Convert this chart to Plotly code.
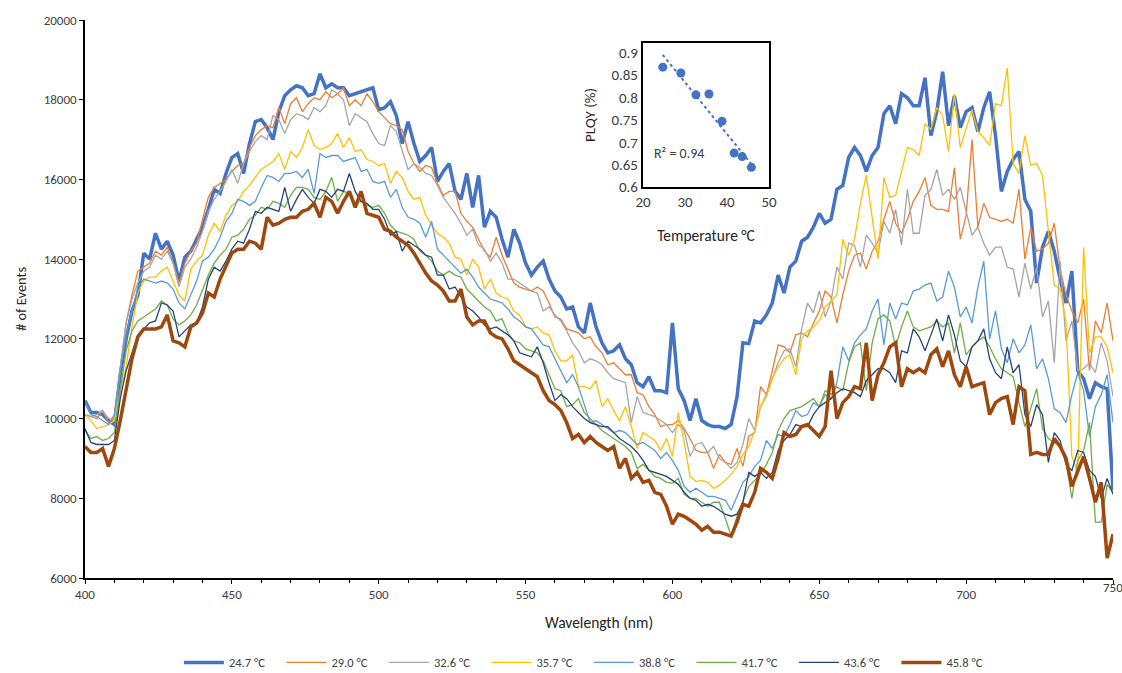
import numpy as np
import plotly.graph_objects as go

# ---------------- data ----------------
wavelength = list(range(400, 752, 2))

s247 = [10450, 10150, 10150, 10100, 9950, 9850, 11100, 12000, 12700, 13100,
        14150, 14000, 14650, 14250, 14450, 14100, 13450, 14050, 14200, 14500,
        14800, 15250, 15750, 15650, 16150, 16550, 16650, 16150, 16900, 17450,
        17500, 17300, 17000, 17700, 18100, 18250, 18350, 18300, 18100, 18150,
        18650, 18300, 18400, 18300, 18300, 18100, 18150, 18200, 18250, 18300,
        17750, 17800, 17950, 17600, 16900, 17450, 16900, 16450, 16600, 16800,
        15950, 16200, 16400, 15700, 15500, 16150, 15300, 16100, 14800, 15200,
        15050, 14500, 14050, 14750, 14400, 13900, 13600, 13800, 13950, 13500,
        13200, 13050, 12750, 12800, 12300, 12150, 12900, 12300, 11900, 11650,
        11700, 11850, 11500, 11350, 10900, 10800, 11050, 10700, 10700, 10650,
        12400, 10750, 10450, 9950, 10500, 9950, 9850, 9800, 9800, 9750,
        9850, 10550, 11900, 11880, 12450, 12400, 12600, 12900, 13600, 13150,
        13800, 13950, 14450, 14550, 14800, 15150, 14900, 15000, 15750, 15850,
        16550, 16800, 16600, 16200, 16600, 16800, 17650, 17850, 17400, 18150,
        18050, 17850, 17850, 18550, 17100, 17700, 18700, 17350, 18100, 17300,
        17700, 17800, 17200, 17800, 18200, 17100, 15700, 16200, 16500, 16700,
        15500, 15200, 13400, 14300, 14700, 14200, 13500, 12900, 13700, 11200,
        11000, 10500, 10900, 10800, 10750, 8200]

s290 = [10100, 10050, 10000, 10200, 9900, 10000, 11200, 12400, 13100, 13700,
        13800, 13900, 14200, 14100, 14300, 13900, 13400, 13900, 14200, 14400,
        15000, 15550, 15800, 15900, 16000, 16200, 16350, 16400, 16800, 17100,
        17250, 17350, 17300, 17800, 17400, 17900, 18050, 17700, 17900, 18050,
        18000, 18200, 18050, 18150, 18300, 17850, 18000, 17850, 18150, 17950,
        17700, 17550, 17400, 17350, 17250, 16700, 16400, 16200, 16350, 16300,
        15900, 15600, 15700, 15700, 15150, 14950, 14800, 14500, 14200, 14050,
        14550, 14100, 13750, 13400, 13300, 13250, 13200, 13300, 13200, 12900,
        12550, 12500, 12250, 12200, 12150, 12000, 12050, 11800, 11650, 11350,
        11400, 11250, 11100, 11100, 10650, 10600, 10300, 10100, 9800, 9850,
        9850, 9950, 9750, 9500, 9200, 9150, 9150, 8750, 9100, 8900,
        8850, 9250, 8800, 9550, 9650, 10800, 10600, 11200, 11850, 11800,
        11650, 12100, 12150, 12050, 12400, 12700, 13200, 13050, 12400, 13100,
        13700, 14100, 14150, 13750, 14200, 14450, 15000, 15450, 14900, 14650,
        15000, 15450, 15700, 16050, 15350, 15250, 15250, 15200, 16300, 14500,
        15100, 17000, 14800, 15400, 15050, 15000, 14950, 15000, 14900, 15750,
        14000, 14800, 14200, 14250, 14400, 14900, 13750, 13100, 12700, 12400,
        13000, 11200, 12450, 12150, 12900, 11950]

s326 = [10100, 10050, 10100, 10200, 10000, 9950, 11300, 12400, 13000, 13400,
        13700, 13800, 14100, 14000, 14200, 13900, 13300, 13800, 14000, 14300,
        14700, 15200, 15500, 15700, 15950, 16250, 15900, 16400, 16700, 16950,
        17100, 17000, 17600, 17500, 17150, 17500, 17650, 17600, 17500, 17800,
        17700, 17850, 18250, 18150, 18000, 17350, 17650, 17550, 17450, 17150,
        16900, 16850, 17350, 17200, 16700, 16250, 16400, 16300, 16150, 16100,
        15850, 15550, 15350, 15150, 14900, 14600, 14750, 14350, 14250, 13950,
        14150, 13900, 13500, 13500, 13400, 13300, 13200, 13150, 12700, 12800,
        12600, 12450, 12200, 11900, 11700, 11400, 11500, 11450, 11350, 11150,
        11000, 10950, 10900, 9900, 10550, 10150, 10100, 10050, 9950, 9850,
        9650, 9850, 9700, 9050, 9350, 9400, 9150, 9300, 9000, 8900,
        8750, 8900, 9350, 10000, 9700, 10300, 10600, 11000, 11400, 11700,
        11750, 11300, 12250, 12900, 12650, 13200, 12550, 12950, 13800, 13500,
        14400, 14350, 13800, 14600, 14400, 14150, 14950, 14650, 15250, 14350,
        15750, 14650, 14650, 15600, 15750, 16250, 15600, 15750, 15500, 15800,
        15200, 14600, 14800, 14400, 14100, 14300, 14300, 13800, 13750, 13050,
        13900, 13250, 13800, 12550, 12950, 11400, 13950, 11950, 12450, 11200,
        11250, 11400, 11150, 11900, 11450, 10550]

s357 = [10100, 9950, 9750, 9800, 9850, 9950, 10700, 11300, 12300, 13150,
        13450, 13550, 13550, 13700, 13800, 13450, 13100, 12950, 13750, 13950,
        14100, 14600, 14900, 14700, 15100, 15350, 15450, 15700, 15850, 16050,
        16250, 16350, 16450, 16650, 16250, 16700, 16550, 16800, 17250, 16850,
        16750, 16800, 16900, 17150, 16800, 17050, 16700, 16750, 16500, 16450,
        16350, 16400, 15900, 16200, 16050, 15700, 15500, 15550, 15100, 14850,
        14650, 14550, 14400, 14050, 14000, 13600, 14000, 13800, 13250, 13500,
        13150, 13050, 13000, 12700, 12600, 12300, 12250, 12300, 12150, 12100,
        11700, 11450, 11450, 11600, 10800, 10800, 10750, 10950, 10300, 10500,
        10200, 9950, 10300, 9800, 9250, 9650, 9550, 9450, 9200, 9500,
        9050, 10150, 9400, 8550, 8420, 8450, 8400, 8250, 8330, 8450,
        8600, 8800, 9100, 9300, 9700, 10300, 10550, 11000, 11300, 11500,
        11600, 11100, 12000, 12200, 12300, 12450, 12800, 12950, 13100, 14500,
        14100, 14500, 15400, 16100, 15000, 14000, 16050, 15550, 15600, 16200,
        16800, 16750, 16600, 17400, 17250, 17800, 17600, 16700, 18150, 16800,
        17300, 17750, 17200, 17050, 16850, 17900, 17850, 18800, 16400, 16150,
        17100, 16350, 16400, 16100, 14700, 13350, 13250, 12400, 9050, 8650,
        14300, 11650, 12050, 12050, 11800, 11150]

s388 = [10450, 10100, 10050, 9950, 9850, 10100, 11200, 12100, 12700, 13300,
        13500, 13450, 13400, 13450, 13400, 13250, 12900, 12750, 13100, 13450,
        13950, 14050, 14250, 14550, 14950, 15150, 15500, 15450, 15350, 15450,
        15800, 16100, 16050, 15950, 16150, 16150, 16200, 16050, 16250, 15650,
        16650, 16550, 16600, 16600, 16450, 16500, 16550, 16200, 16250, 15950,
        15900, 15950, 15550, 15750, 15300, 15050, 15000, 14900, 14550, 14950,
        14250, 14100, 13950, 13800, 13650, 13750, 13550, 13300, 13150, 13000,
        12950, 12900, 12750, 12550, 12450, 12300, 12250, 12050, 11850, 11800,
        11500, 11200, 10900, 11100, 10800, 10350, 9900, 9950, 9850, 9750,
        9650, 9700, 9650, 9500, 9350, 9400, 9300, 9200, 9000, 9150,
        8950, 8700, 8300, 8150, 8250, 8150, 8050, 8050, 8000, 7950,
        7700, 8050, 8400, 8550, 8800, 8950, 9450, 9250, 9600, 9550,
        9850, 10200, 10050, 10100, 10400, 10300, 10600, 10500, 10900, 11800,
        11450, 11900, 12100, 12250, 12700, 13000, 11850, 12900, 12500, 12900,
        12850, 13200, 13250, 13350, 13400, 12950, 13050, 13700, 13300, 12550,
        12800, 12400, 13300, 13950, 12000, 12700, 11750, 11400, 12000, 11650,
        11850, 12350, 11250, 11500, 11000, 10250, 10150, 9900, 10600, 11150,
        10700, 9550, 10300, 10600, 11100, 9900]

s417 = [9700, 9500, 9550, 9450, 9500, 9650, 10700, 11700, 12200, 12450,
        12550, 12650, 12750, 12950, 12850, 12500, 12350, 12450, 12600, 12850,
        13250, 13600, 13900, 14100, 14250, 14550, 14600, 14750, 15000, 15100,
        15300, 15250, 15450, 15400, 15300, 15600, 15800, 15800, 15750, 15550,
        15500, 15700, 16050, 15450, 15700, 15650, 15400, 15450, 15350, 15300,
        15350, 15150, 14850, 14700, 14650, 14600, 14500, 14200, 14100, 13950,
        13700, 13600, 13700, 13600, 13550, 13250, 13100, 12950, 12800, 12700,
        12450, 12500, 12150, 11950, 11900, 11750, 11700, 11650, 11450, 11100,
        10750, 10700, 10300, 10350, 10500, 10150, 10000, 9850, 9700, 9600,
        9500, 9420, 9300, 9150, 8750, 8850, 8700, 8550, 8500, 8400,
        8380, 8500, 8100, 8000, 8000, 7900, 7800, 7900, 7900, 7500,
        7050, 7550, 7950, 8300, 8450, 8600, 8850, 9150, 9700, 10000,
        10200, 10250, 10300, 10400, 10500, 10300, 10700, 10600, 10800, 10700,
        11400, 11800, 11900, 10700, 11900, 12500, 12600, 12450, 11800, 12300,
        12700, 12300, 12200, 12250, 12300, 12450, 12300, 12400, 11650, 12400,
        11600, 11800, 11950, 12050, 11800, 11500, 11250, 11150, 11050, 10400,
        9800, 10250, 10750, 9750, 9500, 9400, 9300, 8900, 8000, 8950,
        9200, 9900, 7400, 7400, 8350, 8150]

s436 = [9750, 9400, 9350, 9350, 9350, 9450, 10500, 11200, 11650, 12100,
        12250, 12400, 12450, 12900, 12850, 12700, 12050, 12200, 12350, 12400,
        12800, 13500, 13800, 13700, 13950, 14250, 14450, 14400, 14750, 15200,
        15150, 15300, 15250, 15200, 15800, 15200, 15500, 15750, 15550, 15400,
        15750, 15700, 15550, 15750, 15700, 16150, 15700, 15450, 15400, 15250,
        15250, 15000, 14600, 14700, 14200, 14450, 14350, 14250, 14100, 14050,
        13600, 13600, 13250, 13300, 13050, 12800, 12700, 12550, 12350, 12250,
        12300, 12200, 12100, 11950, 11650, 11600, 11550, 11800, 11400, 10900,
        10450, 10600, 10500, 10300, 10150, 10000, 9900, 9850, 9800, 9800,
        9650, 9500, 9400, 9300, 9150, 8950, 8700, 8650, 8600, 8550,
        8450, 8350, 8150, 8000, 7950, 7800, 7850, 7800, 7700, 7600,
        7550, 7600, 7900, 8650, 8550, 8650, 8500, 8650, 9200, 9450,
        9600, 9850, 9800, 9800, 10100, 10300, 10400, 10500, 10650, 10750,
        10700, 10650, 10550, 10950, 11100, 11250, 11250, 11150, 10900, 11700,
        11650, 12250, 12050, 11700, 12100, 12500, 11950, 12600, 12100, 11450,
        11300, 11800, 11950, 12250, 11500, 11150, 11000, 11800, 11150, 11350,
        10100, 9800, 10350, 10100, 8900, 9650, 9450, 8850, 8700, 9200,
        9150, 8700, 8550, 8000, 8500, 8100]

s458 = [9300, 9150, 9150, 9250, 8800, 9250, 9950, 10700, 11500, 12050,
        12250, 12250, 12250, 12300, 12600, 11950, 11900, 11800, 12300, 12400,
        12650, 13150, 13050, 13500, 13850, 14150, 14250, 14250, 14450, 14400,
        14250, 15050, 14850, 14900, 15000, 15050, 15050, 15200, 15250, 15400,
        15050, 15550, 15450, 15150, 15450, 15700, 15300, 15700, 15150, 15100,
        15050, 14750, 14700, 14550, 14450, 14350, 14150, 13900, 13650, 13450,
        13350, 13200, 12950, 12950, 13250, 12550, 12350, 12450, 12450, 12150,
        12050, 12000, 11750, 11450, 11350, 11250, 11150, 11050, 10700, 10450,
        10350, 10200, 9900, 9500, 9600, 9400, 9550, 9400, 9300, 9200,
        9300, 8750, 9000, 8500, 8650, 8400, 8450, 8150, 8100, 7800,
        7350, 7600, 7550, 7450, 7350, 7200, 7300, 7150, 7150, 7100,
        7050, 7400, 7850, 7800, 8150, 8750, 8650, 8500, 9000, 9650,
        9550, 9600, 9800, 9850, 9700, 9550, 9800, 11200, 10000, 10400,
        10550, 10800, 10750, 11900, 10450, 11100, 11400, 11800, 11900, 10800,
        11250, 11150, 11250, 11150, 11600, 11750, 11300, 11700, 11100, 10800,
        11300, 10800, 10850, 10900, 10100, 10400, 10500, 10550, 9850, 10800,
        10700, 9100, 9150, 9100, 9100, 9500, 9300, 9000, 8300, 8700,
        9050, 8500, 7900, 8400, 6500, 7100]

series_names = ["24.7 °C", "29.0 °C", "32.6 °C", "35.7 °C",
                "38.8 °C", "41.7 °C", "43.6 °C", "45.8 °C"]

x_tick_values = [400, 450, 500, 550, 600, 650, 700, 750]
x_tick_labels = ["400", "450", "500", "550", "600", "650", "700", ""]

# inset data
temperature = [24.7, 29.0, 32.6, 35.7, 38.8, 41.7, 43.6, 45.8]
plqy = [0.868, 0.855, 0.806, 0.808, 0.747, 0.676, 0.668, 0.644]
plqy_ticks = [0.6, 0.65, 0.7, 0.75, 0.8, 0.85, 0.9]

# ---------------- styling ----------------
all_series = [s247, s290, s326, s357, s388, s417, s436, s458]
colors = ["#4472C4", "#ED7D31", "#A5A5A5", "#FFC000",
          "#5B9BD5", "#70AD47", "#264478", "#9E480E"]
widths = [3.5, 1.3, 1.3, 1.3, 1.3, 1.3, 1.3, 3.5]

FONT = "Carlito, Lato, Calibri, sans-serif"
TXT = "#404040"

fig = go.Figure()
for name, vals, col, w in zip(series_names, all_series, colors, widths):
    fig.add_trace(go.Scatter(x=wavelength, y=vals, mode="lines", name=name,
                             line=dict(color=col, width=w)))

# inset: scatter + linear trendline
fig.add_trace(go.Scatter(x=temperature, y=plqy, mode="markers", showlegend=False,
                         marker=dict(color="#4472C4", size=9),
                         xaxis="x2", yaxis="y2"))
coef = np.polyfit(temperature, plqy, 1)
tx = [min(temperature), max(temperature)]
ty = [coef[0] * t + coef[1] for t in tx]
fig.add_trace(go.Scatter(x=tx, y=ty, mode="lines", showlegend=False,
                         line=dict(color="#4472C4", width=2, dash="dot"),
                         xaxis="x2", yaxis="y2"))

axis_common = dict(showgrid=False, zeroline=False, showline=True,
                   linecolor="black", linewidth=1.5,
                   tickfont=dict(size=13, color=TXT, family=FONT))

fig.update_layout(
    width=1122, height=673,
    margin=dict(l=85, r=9, t=20, b=95, autoexpand=False),
    paper_bgcolor="white", plot_bgcolor="white",
    font=dict(family=FONT, color=TXT),
    xaxis=dict(range=[400, 750], tickvals=x_tick_values, ticktext=x_tick_labels,
               ticks="outside", ticklen=4, tickcolor="black", tickwidth=1,
               minor=dict(dtick=10, ticks="outside", ticklen=3, tickcolor="black"),
               title=dict(text="Wavelength (nm)", font=dict(size=15.5, color="#262626"),
                          standoff=16),
               automargin=False, **axis_common),
    yaxis=dict(range=[6000, 20000], dtick=2000, tickformat="d",
               ticks="outside", ticklen=4, tickcolor="black",
               title=dict(text="# of Events", font=dict(size=14.5, color="#262626"),
                          standoff=14),
               automargin=False, **axis_common),
    xaxis2=dict(domain=[0.5428, 0.6654], anchor="y2", range=[20, 50], dtick=10,
                showgrid=False, zeroline=False, showline=True, mirror=True,
                linecolor="black", linewidth=2, ticks="",
                tickfont=dict(size=15, color=TXT, family=FONT),
                title=dict(text="Temperature °C", font=dict(size=15.5, color="#262626"),
                           standoff=20),
                automargin=False),
    yaxis2=dict(domain=[0.7007, 0.9588], anchor="x2", range=[0.6, 0.922],
                tickvals=plqy_ticks, ticktext=[f"{v:g}" for v in plqy_ticks],
                showgrid=False, zeroline=False, showline=True, mirror=True,
                linecolor="black", linewidth=2, ticks="",
                tickfont=dict(size=15, color=TXT, family=FONT),
                title=dict(text="PLQY (%)", font=dict(size=15, color="#262626"),
                           standoff=12),
                automargin=False),
    legend=dict(orientation="h", x=0.4902, xanchor="center", y=-0.152, yanchor="middle",
                font=dict(size=12.5, color=TXT, family=FONT),
                entrywidth=47.5, entrywidthmode="pixels", itemwidth=40,
                bgcolor="rgba(0,0,0,0)"),
    annotations=[
        dict(text="R² = 0.94", xref="x2", yref="y2", x=28.5, y=0.6745,
             showarrow=False, font=dict(size=14, color=TXT, family=FONT)),
        dict(text="750", xref="x", yref="paper", x=750, y=0, yshift=-19,
             showarrow=False, font=dict(size=13, color=TXT, family=FONT)),
    ],
)

fig.write_html("out.html")
